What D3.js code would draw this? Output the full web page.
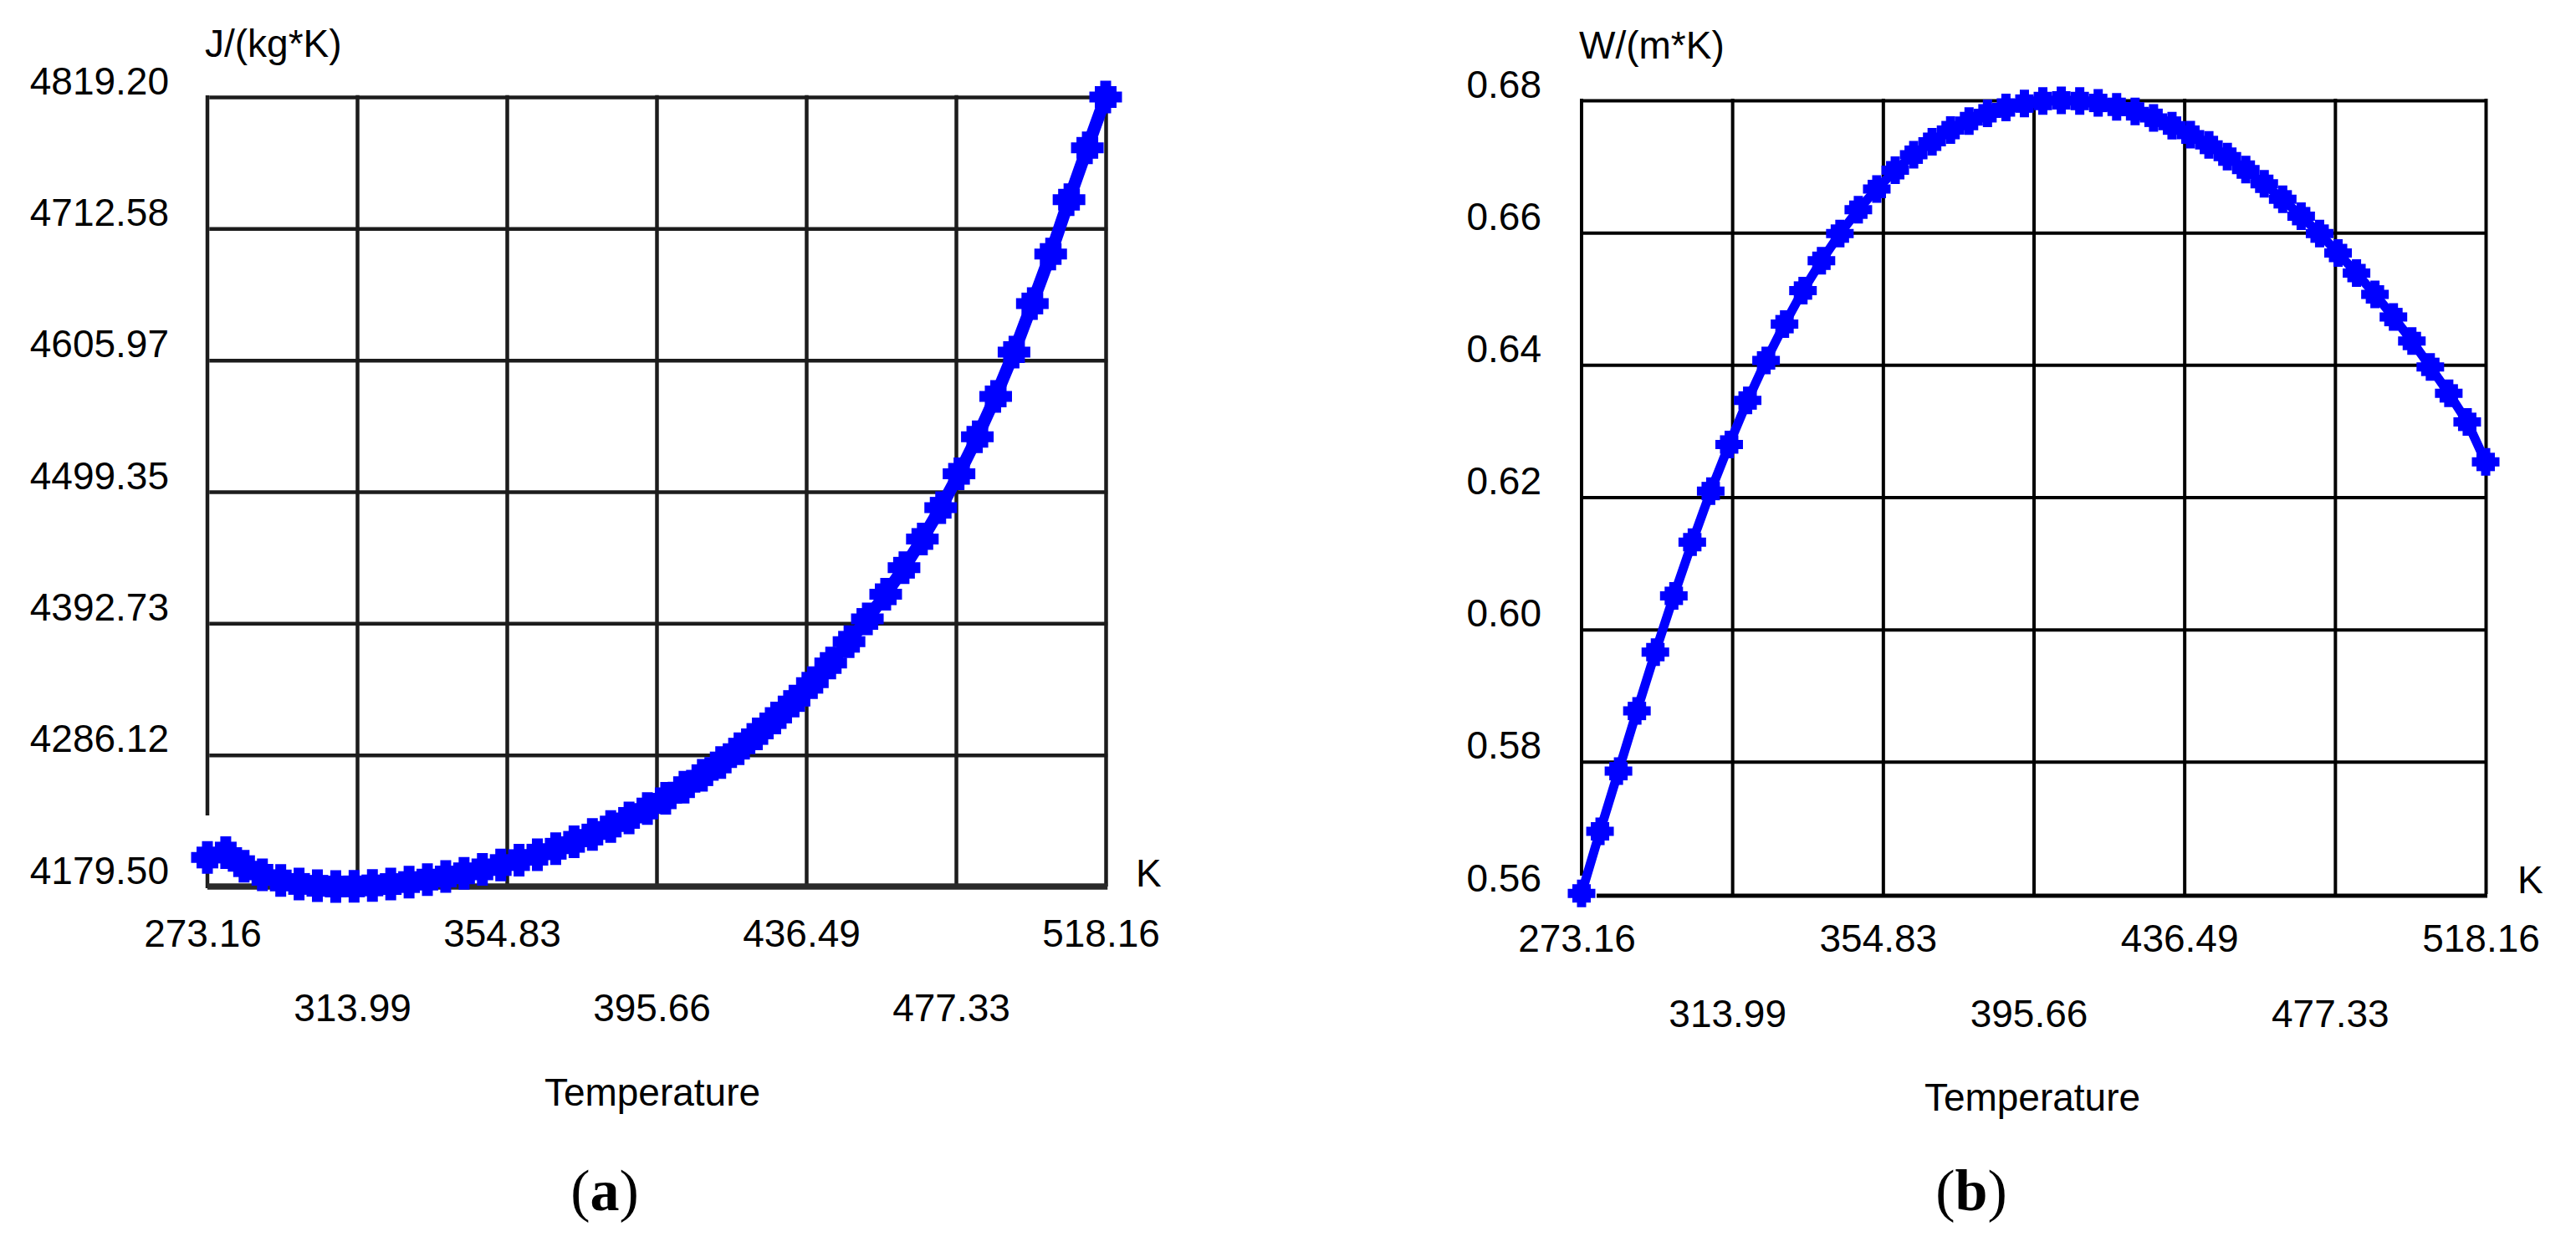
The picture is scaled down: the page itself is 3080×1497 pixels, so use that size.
<!DOCTYPE html>
<html><head><meta charset="utf-8">
<script src="https://cdn.jsdelivr.net/npm/d3@7"></script>
<style>body{margin:0;background:#fff}svg{display:block}</style>
</head><body>
<svg id="chart" width="3080" height="1497"></svg>
<script>
// ---------------- data ----------------
const temperatureK = [273.16, 278.16, 283.16, 288.16, 293.16, 298.16, 303.16, 308.16, 313.16, 318.16,
  323.16, 328.16, 333.16, 338.16, 343.16, 348.16, 353.16, 358.16, 363.16, 368.16,
  373.16, 378.16, 383.16, 388.16, 393.16, 398.16, 403.16, 408.16, 413.16, 418.16,
  423.16, 428.16, 433.16, 438.16, 443.16, 448.16, 453.16, 458.16, 463.16, 468.16,
  473.16, 478.16, 483.16, 488.16, 493.16, 498.16, 503.16, 508.16, 513.16, 518.16];
const heatCapacity = [4203, 4207, 4196, 4189, 4184.4, 4181.6, 4180.1, 4179.5, 4179.6, 4180.4,
  4181.5, 4183.1, 4185.1, 4187.6, 4190.2, 4193.4, 4196.9, 4200.9, 4205.3, 4210.1,
  4215.7, 4221.6, 4228.1, 4235.1, 4242.7, 4251.0, 4260.0, 4269.7, 4280.0, 4291.2,
  4303.1, 4316.0, 4329.8, 4344.6, 4360.6, 4377.8, 4396.3, 4416.3, 4437.8, 4461.1,
  4486.4, 4513.9, 4543.9, 4576.6, 4612.5, 4651.9, 4692.0, 4736.0, 4778.0, 4819.2];
const thermalConductivity = [0.5611, 0.5707, 0.5800, 0.5893, 0.5984, 0.6071, 0.6154, 0.6233, 0.6305, 0.6373,
  0.6435, 0.6491, 0.6543, 0.6589, 0.6631, 0.6668, 0.6700, 0.6729, 0.6753, 0.6773,
  0.6791, 0.6805, 0.6817, 0.6826, 0.6832, 0.6836, 0.6837, 0.6836, 0.6833, 0.6827,
  0.6820, 0.6810, 0.6798, 0.6784, 0.6768, 0.6750, 0.6730, 0.6708, 0.6684, 0.6658,
  0.6631, 0.6601, 0.6570, 0.6537, 0.6502, 0.6465, 0.6425, 0.6384, 0.6340, 0.6278];

const xTickValues = [273.16, 313.99, 354.83, 395.66, 436.49, 477.33, 518.16];
const xTickLabels = ["273.16", "313.99", "354.83", "395.66", "436.49", "477.33", "518.16"];
const yTickValuesA = [4179.50, 4286.12, 4392.73, 4499.35, 4605.97, 4712.58, 4819.20];
const yTickLabelsA = ["4179.50", "4286.12", "4392.73", "4499.35", "4605.97", "4712.58", "4819.20"];
const yTickValuesB = [0.5610, 0.58145, 0.6019, 0.62235, 0.6428, 0.66325, 0.6837];
const yTickLabelsB = ["0.56", "0.58", "0.60", "0.62", "0.64", "0.66", "0.68"];
const unitLabels = ["J/(kg*K)", "W/(m*K)"];
const xTitle = "Temperature";
const xUnit = "K";
const panelLetters = ["a", "b"];

// ---------------- layout ----------------
const svg = d3.select("#chart");
svg.append("rect").attr("width", 3080).attr("height", 1497).attr("fill", "#fff");
const FONT = "'Liberation Sans', Arial, sans-serif";

const panels = [
  { values: heatCapacity, yTicks: yTickValuesA, yLabels: yTickLabelsA, unit: unitLabels[0], letter: panelLetters[0],
    left: 248, right: 1322, top: 116, bottom: 1060, gridColor: "#1c1c1c", gridW: 4.5,
    bottomLine: { x0: 248, x1: 1322, y: 1060, w: 7.5, color: "#2a2a2a" },
    leftSegs: [[114, 975], [1023, 1062]],
    labelRight: 202, unitX: 245, unitY: 68, row1: 1132, row2: 1221,
    titleX: 780, titleY: 1322, letterX: 723, letterY: 1447, kX: 1358, kY: 1060,
    lineW: 15, crossR: 6.5, sq: 26 },
  { values: thermalConductivity, yTicks: yTickValuesB, yLabels: yTickLabelsB, unit: unitLabels[1], letter: panelLetters[1],
    left: 1891, right: 2972, top: 120, bottom: 1069, gridColor: "#000", gridW: 4,
    bottomLine: { x0: 1909, x1: 2972, y: 1071, w: 5, color: "#000" },
    leftSegs: [[118, 1047]],
    labelRight: 1843, unitX: 1888, unitY: 70, row1: 1138, row2: 1228,
    titleX: 2430, titleY: 1328, letterX: 2357, letterY: 1447, kX: 3010, kY: 1068,
    lineW: 11, crossR: 5.5, sq: 22 }
];

panels.forEach(p => {
  const x = d3.scaleLinear().domain([xTickValues[0], xTickValues[xTickValues.length - 1]]).range([p.left, p.right]);
  const y = d3.scaleLinear().domain([p.yTicks[0], p.yTicks[p.yTicks.length - 1]]).range([p.bottom, p.top]);
  const g = svg.append("g");

  const hGrid = g.append("g").attr("transform", `translate(${p.left},0)`)
    .call(d3.axisLeft(y).tickValues(p.yTicks.slice(1)).tickSize(-(p.right - p.left)).tickFormat(""));
  hGrid.select(".domain").remove();
  hGrid.selectAll("line").attr("stroke", p.gridColor).attr("stroke-width", p.gridW)
    .attr("x1", p.gridW / 2).attr("x2", p.right - p.left + p.gridW / 2);

  const vGrid = g.append("g").attr("transform", `translate(0,${p.bottom})`)
    .call(d3.axisBottom(x).tickValues(xTickValues.slice(1)).tickSize(-(p.bottom - p.top)).tickFormat(""));
  vGrid.select(".domain").remove();
  vGrid.selectAll("line").attr("stroke", p.gridColor).attr("stroke-width", p.gridW)
    .attr("y2", -(p.bottom - p.top) - p.gridW / 2);

  p.leftSegs.forEach(s => {
    g.append("line").attr("x1", p.left).attr("x2", p.left).attr("y1", s[0]).attr("y2", s[1])
      .attr("stroke", p.gridColor).attr("stroke-width", p.gridW);
  });
  g.append("line").attr("x1", p.bottomLine.x0).attr("x2", p.bottomLine.x1 + p.gridW / 2)
    .attr("y1", p.bottomLine.y).attr("y2", p.bottomLine.y)
    .attr("stroke", p.bottomLine.color).attr("stroke-width", p.bottomLine.w);

  const yLab = g.append("g").attr("transform", `translate(${p.left},0)`)
    .call(d3.axisLeft(y).tickValues(p.yTicks).tickSize(0).tickPadding(p.left - p.labelRight)
      .tickFormat((d, i) => p.yLabels[i]));
  yLab.select(".domain").remove();
  yLab.selectAll("text").attr("dy", 0).attr("y", -4)
    .attr("font-family", FONT).attr("font-size", 46).attr("fill", "#000");

  const xLab = g.append("g").attr("transform", `translate(0,${p.bottom})`)
    .call(d3.axisBottom(x).tickValues(xTickValues).tickSize(0).tickFormat((d, i) => xTickLabels[i]));
  xLab.select(".domain").remove();
  xLab.selectAll("text").attr("dy", 0).attr("x", -6)
    .attr("y", (d, i) => (i % 2 === 0 ? p.row1 : p.row2) - p.bottom)
    .attr("font-family", FONT).attr("font-size", 46).attr("fill", "#000");

  g.append("text").attr("x", p.unitX).attr("y", p.unitY).text(p.unit)
    .attr("font-family", FONT).attr("font-size", 46).attr("fill", "#000");
  g.append("text").attr("x", p.kX).attr("y", p.kY).text(xUnit)
    .attr("font-family", FONT).attr("font-size", 46).attr("fill", "#000");
  g.append("text").attr("x", p.titleX).attr("y", p.titleY).attr("text-anchor", "middle").text(xTitle)
    .attr("font-family", FONT).attr("font-size", 46).attr("fill", "#000");

  const lt = g.append("text").attr("x", p.letterX).attr("y", p.letterY).attr("text-anchor", "middle")
    .attr("font-family", "'Liberation Serif', 'Times New Roman', serif").attr("font-size", 70).attr("fill", "#000");
  lt.append("tspan").text("(");
  lt.append("tspan").attr("font-weight", "bold").text(p.letter);
  lt.append("tspan").text(")");

  const pts = temperatureK.map((t, i) => [t, p.values[i]]);
  const line = d3.line().x(d => x(d[0])).y(d => y(d[1]));
  g.append("path").datum(pts).attr("d", line).attr("fill", "none")
    .attr("stroke", "#0000ff").attr("stroke-width", p.lineW).attr("stroke-linejoin", "round");
  const cross = d3.symbol(d3.symbolCross, 20 * p.crossR * p.crossR);
  const square = d3.symbol(d3.symbolSquare, p.sq * p.sq);
  const mk = g.append("g").selectAll("g").data(pts).join("g")
    .attr("transform", d => `translate(${x(d[0])},${y(d[1])})`);
  mk.append("path").attr("d", cross).attr("fill", "#0000ff");
  mk.append("path").attr("d", square).attr("fill", "#0000ff");
});
</script>
</body></html>
